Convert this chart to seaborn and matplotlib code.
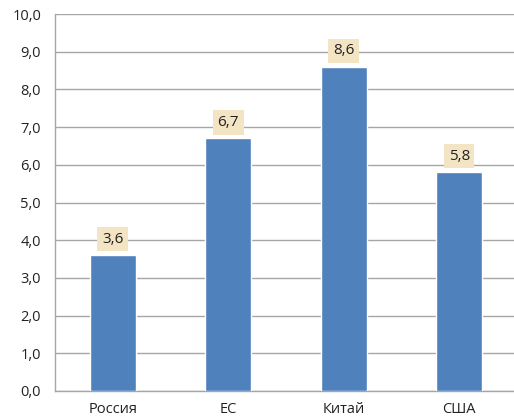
import matplotlib
matplotlib.use("Agg")
import matplotlib.pyplot as plt
import seaborn as sns
import pandas as pd

regions = ["Россия", "ЕС", "Китай", "США"]
values = [3.6, 6.7, 8.6, 5.8]
y_ticks = [0, 1, 2, 3, 4, 5, 6, 7, 8, 9, 10]

sns.set_theme(style="white")
plt.rcParams["font.family"] = ["Open Sans", "DejaVu Sans"]

df = pd.DataFrame({"region": regions, "value": values})

fig = plt.figure(figsize=(5.14, 4.2), dpi=100)
ax = fig.add_axes([55 / 514, 1 - 391 / 420, (517 - 55) / 514, (391 - 14) / 420])

sns.barplot(data=df, x="region", y="value", color="#4F81BD", width=0.4,
            saturation=1, ax=ax, zorder=3)

ax.set_ylim(0, 10)
ax.set_yticks(y_ticks)
ax.set_yticklabels([f"{t:.1f}".replace(".", ",") for t in y_ticks], fontsize=10.5,
                   color="#222222")
ax.tick_params(axis="x", labelsize=10.5, length=0, pad=8, labelcolor="#222222")
ax.tick_params(axis="y", length=0, pad=10)
ax.set_xlabel("")
ax.set_ylabel("")
ax.yaxis.grid(True, color="#A6A6A6", linewidth=1)
ax.set_axisbelow(True)

for side in ["top", "right"]:
    ax.spines[side].set_visible(False)
for side in ["left", "bottom"]:
    ax.spines[side].set_color("#A6A6A6")
    ax.spines[side].set_linewidth(1)

for i, v in enumerate(values):
    ax.annotate(f"{v:.1f}".replace(".", ","), xy=(i, v), xytext=(0, 11.5),
                textcoords="offset points", ha="center", va="center",
                fontsize=11, color="#222222", zorder=5,
                bbox=dict(boxstyle="square,pad=0.3", facecolor="#F3E4C3",
                          edgecolor="none"))

fig.savefig("out.png", dpi=100)
